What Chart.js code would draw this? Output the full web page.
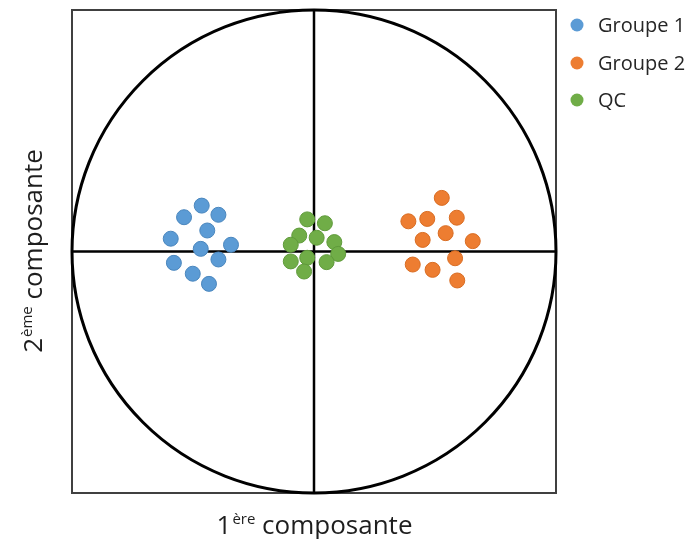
<!DOCTYPE html>
<html>
<head>
<meta charset="utf-8">
<script src="https://cdn.jsdelivr.net/npm/chart.js@4"></script>
<style>
  html, body { margin: 0; padding: 0; background: #fff; }
  #wrap { width: 696px; height: 539px; }
</style>
</head>
<body>
<div id="wrap"><canvas id="pca" width="696" height="539"></canvas></div>
<script>
// scores on the first two components
const groupe1X = [-0.464, -0.537, -0.395, -0.441, -0.592, -0.468, -0.343, -0.579, -0.395, -0.501, -0.434];
const groupe1Y = [0.190, 0.142, 0.152, 0.087, 0.053, 0.011, 0.028, -0.047, -0.033, -0.092, -0.134];
const groupe2X = [0.528, 0.390, 0.468, 0.590, 0.449, 0.544, 0.656, 0.408, 0.490, 0.583, 0.592];
const groupe2Y = [0.222, 0.125, 0.135, 0.140, 0.048, 0.076, 0.043, -0.054, -0.076, -0.028, -0.120];
const qcX = [-0.028, 0.045, -0.061, 0.011, -0.096, 0.084, 0.100, -0.096, -0.028, 0.052, -0.041];
const qcY = [0.133, 0.117, 0.066, 0.057, 0.028, 0.039, -0.010, -0.041, -0.026, -0.044, -0.083];

const seriesNames = ["Groupe 1", "Groupe 2", "QC"];
const seriesColors = ["#5B9BD5", "#ED7D31", "#70AD47"];
const seriesBorders = ["#4a86bd", "#d86c22", "#5f9a3a"];
const circleRadius = 1;

function toPoints(xs, ys) {
  return xs.map((x, i) => ({ x: x, y: ys[i] }));
}

const FONT = "'Open Sans', sans-serif";

// correlation circle, axes cross and frame
const framePlugin = {
  id: 'frame',
  beforeDatasetsDraw(chart) {
    const ctx = chart.ctx;
    const a = chart.chartArea;
    const sx = chart.scales.x, sy = chart.scales.y;
    const cx = sx.getPixelForValue(0), cy = sy.getPixelForValue(0);
    ctx.save();
    ctx.strokeStyle = '#404040';
    ctx.lineWidth = 2;
    ctx.strokeRect(a.left, a.top, a.right - a.left, a.bottom - a.top);

    ctx.strokeStyle = '#000';
    ctx.lineWidth = 2.5;
    ctx.beginPath();
    ctx.moveTo(sx.getPixelForValue(-1), cy);
    ctx.lineTo(sx.getPixelForValue(1), cy);
    ctx.moveTo(cx, sy.getPixelForValue(1));
    ctx.lineTo(cx, sy.getPixelForValue(-1));
    ctx.stroke();

    ctx.lineWidth = 3;
    ctx.beginPath();
    ctx.ellipse(cx, cy,
      sx.getPixelForValue(circleRadius) - cx,
      cy - sy.getPixelForValue(circleRadius), 0, 0, Math.PI * 2);
    ctx.stroke();
    ctx.restore();
  },
  afterDraw(chart) {
    const ctx = chart.ctx;
    const a = chart.chartArea;
    ctx.save();
    ctx.fillStyle = '#1e1e1e';
    ctx.textBaseline = 'alphabetic';

    // "1ère composante" under the frame
    drawSupLabel(ctx, '1', 'ère', ' composante', (a.left + a.right) / 2, 534);
    // "2ème composante" rotated on the left
    ctx.save();
    ctx.translate(42, (a.top + a.bottom) / 2);
    ctx.rotate(-Math.PI / 2);
    drawSupLabel(ctx, '2', 'ème', ' composante', 0, 0);
    ctx.restore();

    // legend
    ctx.font = '20px ' + FONT;
    ctx.textAlign = 'left';
    ctx.textBaseline = 'middle';
    const legendY = [25, 63, 100];
    seriesNames.forEach((name, i) => {
      ctx.fillStyle = seriesColors[i];
      ctx.beginPath();
      ctx.arc(577, legendY[i], 6.5, 0, Math.PI * 2);
      ctx.fill();
      ctx.fillStyle = '#262626';
      ctx.fillText(name, 598, legendY[i] + 1);
    });
    ctx.restore();
  }
};

function drawSupLabel(ctx, head, sup, tail, centerX, baseY) {
  const big = '26px ' + FONT, small = '15px ' + FONT;
  ctx.font = big;
  const w1 = ctx.measureText(head).width;
  const w3 = ctx.measureText(tail).width;
  ctx.font = small;
  const w2 = ctx.measureText(sup).width;
  let x = centerX - (w1 + w2 + w3) / 2;
  ctx.textAlign = 'left';
  ctx.font = big;
  ctx.fillText(head, x, baseY);
  x += w1 + 1;
  ctx.font = small;
  ctx.fillText(sup, x, baseY - 10);
  x += w2;
  ctx.font = big;
  ctx.fillText(tail, x, baseY);
}

const datasets = [
  toPoints(groupe1X, groupe1Y),
  toPoints(groupe2X, groupe2Y),
  toPoints(qcX, qcY)
].map((pts, i) => ({
  label: seriesNames[i],
  data: pts,
  backgroundColor: seriesColors[i],
  borderColor: seriesBorders[i],
  borderWidth: 1,
  pointRadius: 7.5,
  pointHoverRadius: 7.5
}));

new Chart(document.getElementById('pca'), {
  type: 'scatter',
  data: { datasets: datasets },
  options: {
    responsive: false,
    animation: false,
    layout: { padding: { left: 72, right: 140, top: 10, bottom: 46 } },
    plugins: { legend: { display: false }, tooltip: { enabled: false } },
    scales: {
      x: { display: false, min: -1, max: 1 },
      y: { display: false, min: -1, max: 1 }
    }
  },
  plugins: [framePlugin]
});
</script>
</body>
</html>
